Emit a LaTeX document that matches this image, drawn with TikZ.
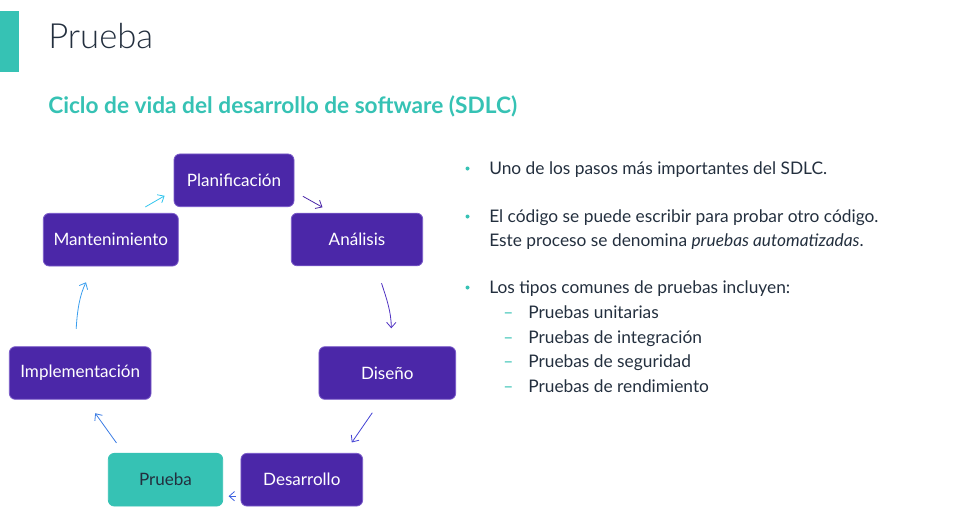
\documentclass[tikz,border=0pt]{standalone}
\usepackage{fontspec}
\setmainfont{Lato}
\newfontfamily\lightfont{Lato Light}
\usetikzlibrary{arrows.meta,calc}
\definecolor{sdlcteal}{HTML}{36C2B4}
\definecolor{sdlcpurple}{HTML}{4B27A8}
\definecolor{sdlcborder}{HTML}{7B5CC9}
\definecolor{inkdark}{HTML}{232F3E}
\definecolor{arrA}{HTML}{33C6EE}
\definecolor{arrB}{HTML}{4B27A8}
\definecolor{arrC}{HTML}{5032C2}
\definecolor{arrD}{HTML}{4342D4}
\definecolor{arrE}{HTML}{3E62E0}
\definecolor{arrF}{HTML}{3B7CE4}
\definecolor{arrG}{HTML}{3A9EEE}
\tikzset{
  stage/.style={rounded corners=4.5pt, fill=sdlcpurple, draw=sdlcborder, line width=0.6pt,
    text=white, font=\fontsize{12.8}{15}\selectfont, minimum height=39.5pt, inner sep=0pt},
  current/.style={stage, fill=sdlcteal, draw=sdlcteal, text=inkdark},
  flow/.style={-{Straight Barb[length=4pt,width=7pt]}, line width=0.6pt},
  body/.style={anchor=base west, inner sep=0pt, text=inkdark, font=\fontsize{13}{15}\selectfont},
  bulletdot/.style={circle, fill=sdlcteal, inner sep=0pt, minimum size=3pt},
  subdash/.style={anchor=base west, inner sep=0pt, text=sdlcteal, font=\fontsize{13}{15}\selectfont}
}
\begin{document}
\begin{tikzpicture}[x=0.75pt,y=-0.75pt]
\useasboundingbox (0,0) rectangle (974,512);

% header
\fill[sdlcteal] (0,11) rectangle (19,72);
\node[anchor=base west, inner sep=0pt, text=inkdark, font=\lightfont\fontsize{26}{30}\selectfont] (title) at (48,48) {Prueba};
\node[anchor=base west, inner sep=0pt, text=sdlcteal, font=\bfseries\fontsize{17}{20}\selectfont] (subtitle) at (48,113) {Ciclo de vida del desarrollo de software (SDLC)};

% SDLC stages
\node[stage, minimum width=90pt]    (plan) at (234,180.3) {Planificación};
\node[stage, minimum width=98.6pt]  (anal) at (357,239.5) {Análisis};
\node[stage, minimum width=101.3pt] (mant) at (110.8,239.7) {Mantenimiento};
\node[stage, minimum width=102.5pt] (dise) at (387.3,373) {Diseño};
\node[stage, minimum width=106.3pt] (impl) at (80.2,373) {Implementación};
\node[stage, minimum width=91.3pt]  (desa) at (301.8,479.7) {Desarrollo};
\node[current, minimum width=85.8pt] (prue) at (165.5,479.7) {Prueba};

% cycle arrows
\draw[flow, arrA] ($(mant.north)+(34.5,-6)$) -- ($(plan.west)+(-9,15.5)$);
\draw[flow, arrB] ($(plan.east)+(8.5,16)$) -- ($(anal.north)+(-34.5,-5.5)$);
\draw[flow, arrC] ($(anal.south)+(24.5,17)$) .. controls ($(anal.south)+(29.5,32)$) and ($(dise.north)+(4,-34)$) .. ($(dise.north)+(4,-18)$);
\draw[flow, arrD] ($(dise.south)+(-15,13)$) -- ($(desa.north)+(50,-10.5)$);
\draw[flow, arrE] ($(desa.west)+(-4.5,16.5)$) -- ($(prue.east)+(5.5,16.5)$);
\draw[flow, arrF] ($(prue.north)+(-49,-10)$) -- ($(impl.south)+(15,13.5)$);
\draw[flow, arrG] ($(impl.north)+(-4,-17.5)$) .. controls ($(impl.north)+(-3,-36)$) and ($(mant.north)+(-31,82)$) .. ($(mant.north)+(-24.8,69.3)$);

% notes
\node[bulletdot] (b1) at (467.5,168.5) {};
\node[body] (t1) at (489,174) {Uno de los pasos más importantes del SDLC.};
\node[bulletdot] (b2) at (467.5,216.5) {};
\node[body] (t2) at (489,222) {El código se puede escribir para probar otro código.};
\node[body] (t3) at (489,246) {Este proceso se denomina \textit{pruebas automatizadas}.};
\node[bulletdot] (b3) at (467.5,287.5) {};
\node[body] (t4) at (489,293) {Los tipos comunes de pruebas incluyen:};
\node[subdash] (d1) at (503,318) {--};
\node[body] (s1) at (528,318) {Pruebas unitarias};
\node[subdash] (d2) at (503,343) {--};
\node[body] (s2) at (528,343) {Pruebas de integración};
\node[subdash] (d3) at (503,367) {--};
\node[body] (s3) at (528,367) {Pruebas de seguridad};
\node[subdash] (d4) at (503,392) {--};
\node[body] (s4) at (528,392) {Pruebas de rendimiento};
\end{tikzpicture}
\end{document}
